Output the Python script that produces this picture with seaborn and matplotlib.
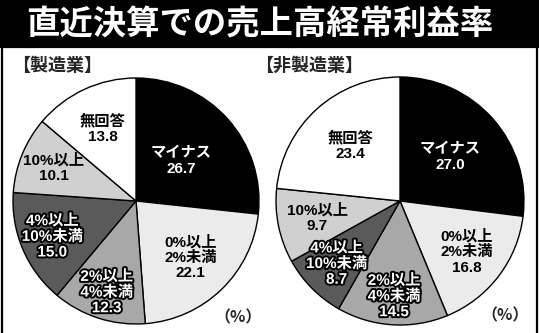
import matplotlib
matplotlib.use("Agg")
import matplotlib.pyplot as plt
import matplotlib.patheffects as pe
from matplotlib.patches import Rectangle
import numpy as np
import seaborn as sns

# ---- data ----
title = "直近決算での売上高経常利益率"
panel_titles = ["【製造業】", "【非製造業】"]
unit_label = "（%）"
categories = ["マイナス", "0%以上\n2%未満", "2%以上\n4%未満", "4%以上\n10%未満", "10%以上", "無回答"]
manufacturing = [26.7, 22.1, 12.3, 15.0, 10.1, 13.8]
non_manufacturing = [27.0, 16.8, 14.5, 8.7, 9.7, 23.4]

# ---- style ----
sns.set_theme(style="white")
plt.rcParams["font.family"] = ["Liberation Sans", "Noto Sans CJK JP", "DejaVu Sans"]
cjk = ["Noto Sans CJK JP", "DejaVu Sans"]

slice_colors = ["#000000", "#ebebeb", "#a8a8a8", "#5a5a5a", "#d0d0d0", "#ffffff"]
text_colors = ["white", "black", "white", "white", "black", "black"]
outlined = [False, False, True, True, False, False]

W, H = 539, 333
fig = plt.figure(figsize=(W / 100, H / 100), dpi=100, facecolor="white")


def px_box(x0, y0, x1, y1):
    """Pixel box (top-left origin) -> figure fraction rect."""
    return [x0 / W, (H - y1) / H, (x1 - x0) / W, (y1 - y0) / H]


# title band and framed panel (behind the axes)
fig.patches.append(Rectangle((0, (H - 48) / H), 1, 48 / H, transform=fig.transFigure,
                             facecolor="black", edgecolor="none", zorder=-5))
fig.patches.append(Rectangle((2 / W, -0.01), 535 / W, (H - 47.5) / H + 0.01,
                             transform=fig.transFigure, facecolor="white",
                             edgecolor="black", linewidth=1.6, zorder=-4))
fig.text(260 / W, 1 - 25 / H, title, color="white", fontsize=24,
         fontweight="bold", family=cjk, ha="center", va="center")

panels = [
    dict(values=manufacturing, box=px_box(13, 78, 259, 324),
         label_r=[0.49, 0.64, 0.78, 0.74, 0.72, 0.65],
         title_x=12, unit_x=238, unit_y=317),
    dict(values=non_manufacturing, box=px_box(276, 77, 524, 325),
         label_r=[0.54, 0.68, 0.77, 0.72, 0.68, 0.60],
         title_x=255, unit_x=505, unit_y=315),
]

for p, ptitle in zip(panels, panel_titles):
    ax = fig.add_axes(p["box"])
    wedges, _ = ax.pie(p["values"], colors=slice_colors, startangle=90,
                       counterclock=False, radius=1.0,
                       wedgeprops=dict(edgecolor="black", linewidth=1.0))
    for w in wedges:
        w.set_clip_on(False)
    ax.set_xlim(-1, 1)
    ax.set_ylim(-1, 1)
    ax.set_aspect("equal")
    ax.axis("off")

    for i, (w, cat, val) in enumerate(zip(wedges, categories, p["values"])):
        theta = np.deg2rad((w.theta1 + w.theta2) / 2)
        r = p["label_r"][i]
        effects = [pe.withStroke(linewidth=2.8, foreground="black")] if outlined[i] else None
        ax.text(r * np.cos(theta), r * np.sin(theta), f"{cat}\n{val:.1f}",
                ha="center", va="center", fontsize=11, fontweight="bold",
                color=text_colors[i], linespacing=1.15, path_effects=effects)

    fig.text(p["title_x"] / W, 1 - 65 / H, ptitle, fontsize=13, fontweight="bold",
             family=cjk, ha="left", va="center")
    fig.text(p["unit_x"] / W, 1 - p["unit_y"] / H, unit_label, fontsize=11.5,
             fontweight="bold", family=cjk, ha="center", va="center")

fig.savefig("out.png", dpi=100, facecolor=fig.get_facecolor())
